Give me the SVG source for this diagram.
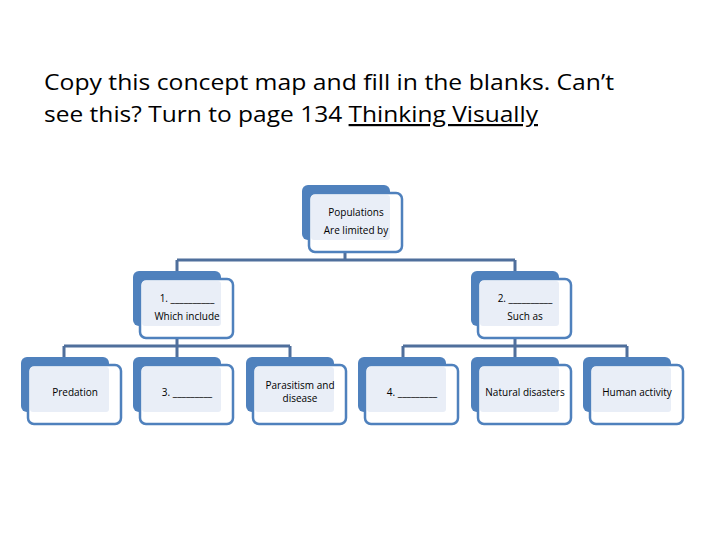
<svg xmlns="http://www.w3.org/2000/svg" width="720" height="540" viewBox="0 0 720 540">
<style>
.b{fill:#4f81bd}
.f{fill:#fff;stroke:#4f81bd;stroke-width:2.5}
.p{fill:#e9eef7}
.t{font-family:"Open Sans","Liberation Sans",sans-serif;font-size:10px;fill:#000;text-anchor:middle}
.h{font-family:"Open Sans","Liberation Sans",sans-serif;font-size:22px;fill:#000}
.c{fill:none;stroke:#4f6f9c;stroke-width:3}
</style>
<defs>
<g id="n">
<rect class="b" x="0" y="0" width="88" height="55" rx="6"/>
<rect class="f" x="7" y="8" width="93" height="59" rx="6"/>
<rect class="p" x="9" y="10" width="79" height="45" rx="3"/>
</g>
</defs>
<rect width="720" height="540" fill="#fff"/>
<text class="h" x="44" y="90" textLength="570" lengthAdjust="spacingAndGlyphs">Copy this concept map and fill in the blanks.  Can’t</text>
<text class="h" x="44" y="122" textLength="494" lengthAdjust="spacingAndGlyphs">see this? Turn to page 134 <tspan text-decoration="underline">Thinking Visually</tspan></text>
<g id="connectors">
<path class="c" d="M345 251V260M177 260H515M177 260V278M515 260V278"/>
<path class="c" d="M177 339V346M64 346H290M64 346V365M177 346V365M290 346V365"/>
<path class="c" d="M515 339V346M403 346H627M403 346V365M515 346V365M627 346V365"/>
</g>
<g id="populations"><use href="#n" x="302" y="185"/><text class="t" x="356" y="216">Populations</text><text class="t" x="356" y="234">Are limited by</text></g>
<g id="n1"><use href="#n" x="133" y="271"/><text class="t" x="187" y="302">1. __________</text><text class="t" x="187" y="320">Which include</text></g>
<g id="n2"><use href="#n" x="471" y="271"/><text class="t" x="525" y="302">2. __________</text><text class="t" x="525" y="320">Such as</text></g>
<g id="predation"><use href="#n" x="21" y="357"/><text class="t" x="75" y="396">Predation</text></g>
<g id="n3"><use href="#n" x="133" y="357"/><text class="t" x="187" y="396">3. _________</text></g>
<g id="parasitism"><use href="#n" x="246" y="357"/><text class="t" x="300" y="389">Parasitism and</text><text class="t" x="300" y="402">disease</text></g>
<g id="n4"><use href="#n" x="358" y="357"/><text class="t" x="412" y="396">4. _________</text></g>
<g id="natural"><use href="#n" x="471" y="357"/><text class="t" x="525" y="396">Natural disasters</text></g>
<g id="human"><use href="#n" x="583" y="357"/><text class="t" x="637" y="396">Human activity</text></g>
</svg>
